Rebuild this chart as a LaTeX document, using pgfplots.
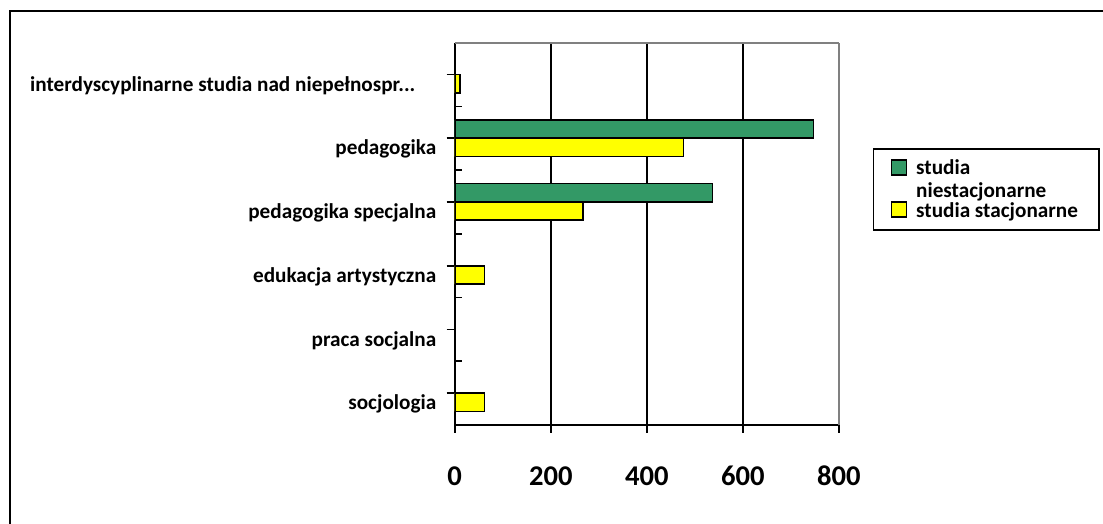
\documentclass[border=0pt]{standalone}
\usepackage{fontspec}
\setmainfont{Carlito}
\usepackage{pgfplots}
\pgfplotsset{compat=1.18}
\definecolor{greenbar}{RGB}{51,153,102}
\definecolor{yellowbar}{RGB}{255,255,0}
\pgfplotsset{
  mylegendA/.style={legend image code/.code={\draw[##1, line width=0.8pt] (0pt,2.3pt) rectangle (7.5pt,9.8pt);}},
  mylegendB/.style={legend image code/.code={\draw[##1, line width=0.8pt] (0pt,-3pt) rectangle (7.5pt,4.5pt);}}}
\begin{document}
\begin{tikzpicture}
\useasboundingbox (0,0) rectangle (551.5pt,262pt);
\draw[line width=1pt] (5pt,-1pt) -- (5pt,256.5pt) -- (553pt,256.5pt);
\begin{axis}[
  at={(227.35pt,49.5pt)}, anchor=south west,
  scale only axis, width=192.15pt, height=191.15pt,
  xbar, bar width=9.15pt,
  xmin=0, xmax=800, ymin=-0.5, ymax=5.5,
  xtick={0,200,400,600},
  ytick={0,1,2,3,4,5},
  yticklabels={socjologia, praca socjalna, edukacja artystyczna, pedagogika specjalna, pedagogika, {interdyscyplinarne studia nad niepełnospr{.}{.}{.}\hspace{10.5pt}}},
  minor ytick={-0.5,0.5,1.5,2.5,3.5,4.5,5.5},
  axis x line*=bottom, axis y line*=left,
  axis line style={-, black, line width=0.9pt},
  tick align=outside,
  major tick length=4pt, minor tick length=-3.5pt,
  tick style={black, line width=0.9pt},
  xmajorgrids, major grid style={black, line width=0.85pt},
  extra x ticks={800}, extra x tick labels={800},
  extra x tick style={grid=major, major grid style={gray, line width=1pt}},
  extra y ticks={5.5}, extra y tick labels={},
  extra y tick style={grid=major, major grid style={gray, line width=1pt}, major tick length=0pt},
  /pgf/number format/assume math mode=true,
  xticklabel style={font=\bfseries\fontsize{14.3}{16}\selectfont, anchor=base, yshift=-26.5pt},
  yticklabel style={font=\bfseries\fontsize{10.6}{12}\selectfont, yshift=-5.5pt, xshift=-1.7pt, align=right},
  legend style={at={(1.0877,0.7238)}, anchor=north west, draw=black, line width=0.9pt,
    font=\bfseries\fontsize{10.6}{11.6}\selectfont, cells={anchor=west, align=left, inner xsep=0pt},
    inner xsep=8.5pt, inner ysep=3pt, row sep=-3pt, column sep=2.5pt},
  legend cell align=left,
]
\addplot[fill=greenbar, draw=black, line width=0.8pt, bar shift=4.575pt, mylegendA]
  coordinates {(747,4) (537,3)};
\addlegendentry{studia\\niestacjonarne}
\addplot[fill=yellowbar, draw=black, line width=0.8pt, bar shift=-4.575pt, mylegendB]
  coordinates {(11,5) (476,4) (267,3) (62,2) (62,0)};
\addlegendentry{studia stacjonarne}
\end{axis}
\end{tikzpicture}
\end{document}
